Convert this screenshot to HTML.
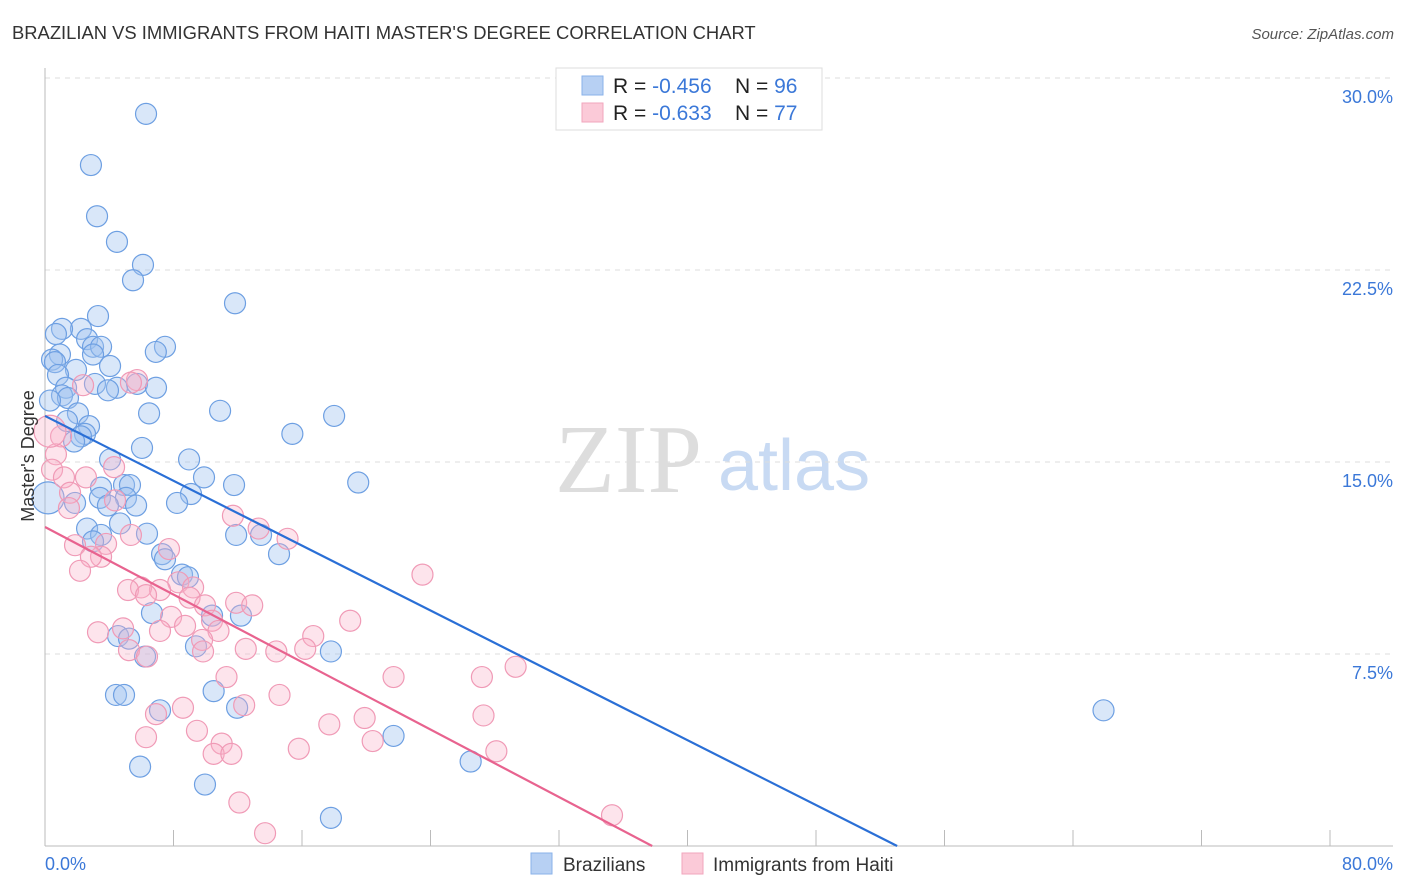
<!DOCTYPE html>
<html><head><meta charset="utf-8"><style>
body{margin:0;background:#fff;font-family:"Liberation Sans",sans-serif;}
svg{display:block}
</style></head><body>
<svg width="1406" height="892" xmlns="http://www.w3.org/2000/svg">
<text x="12" y="39" font-size="18.4" fill="#333">BRAZILIAN VS IMMIGRANTS FROM HAITI MASTER'S DEGREE CORRELATION CHART</text>
<text x="1394" y="39" font-size="15" fill="#555" text-anchor="end" font-style="italic">Source: ZipAtlas.com</text>
<g>
<text x="555" y="492" font-family="Liberation Serif,serif" font-size="98" fill="#ddd">ZIP</text>
<text x="718" y="490" font-size="72" fill="#c8daf3">atlas</text>
</g>
<g id="grid"></g>
<g id="axes"></g>
<g id="pts"></g>
<g id="lines"></g>
<text transform="translate(34,456) rotate(-90)" font-size="18" fill="#333" text-anchor="middle">Master's Degree</text>
<g>
<rect x="556" y="68" width="266" height="62" fill="#fff" stroke="#ddd"/>
<rect x="582" y="76" width="21" height="19" fill="#b7d0f3" stroke="#8ab2ea"/>
<rect x="582" y="103" width="21" height="19" fill="#fbcad8" stroke="#f2a6bd"/>
<text x="613" y="93" font-size="21" fill="#222">R = <tspan fill="#3b78d8">-0.456</tspan><tspan x="735">N = </tspan><tspan fill="#3b78d8">96</tspan></text>
<text x="613" y="120" font-size="21" fill="#222">R = <tspan fill="#3b78d8"> -0.633</tspan><tspan x="735">N = </tspan><tspan fill="#3b78d8">77</tspan></text>
</g>
<g>
<rect x="531" y="853" width="21" height="21" fill="#b7d0f3" stroke="#8ab2ea"/>
<text x="563" y="871" font-size="19" fill="#333">Brazilians</text>
<rect x="682" y="853" width="21" height="21" fill="#fbcad8" stroke="#f2a6bd"/>
<text x="713" y="871" font-size="19" fill="#333">Immigrants from Haiti</text>
</g>
</svg>
<script>
const blueX=[6.29,2.86,3.24,4.48,6.10,5.48,11.83,3.30,2.24,1.06,0.68,2.62,7.47,2.99,3.49,6.90,2.99,0.93,0.44,0.62,4.05,1.93,0.81,3.11,5.73,1.31,4.48,3.92,6.91,1.06,1.43,0.31,6.48,10.9,18.0,2.05,1.37,2.74,2.49,2.24,15.4,1.81,6.04,4.05,8.97,9.90,19.5,11.77,4.92,5.29,3.49,3.42,5.04,9.09,8.22,3.92,5.67,1.87,0.19,4.67,2.62,3.49,6.35,11.9,13.45,2.99,14.57,7.29,7.47,8.53,8.9,6.66,10.4,12.2,4.55,5.23,6.23,9.4,17.8,4.42,4.92,10.5,7.16,11.96,65.9,21.7,5.92,26.5,9.96,17.8];
const blueY=[28.6,26.6,24.6,23.6,22.7,22.1,21.2,20.7,20.2,20.2,20.0,19.8,19.5,19.5,19.5,19.3,19.2,19.2,19.0,18.9,18.75,18.6,18.4,18.05,18.05,17.9,17.9,17.8,17.9,17.6,17.5,17.4,16.9,17.0,16.8,16.9,16.6,16.4,16.1,16.0,16.1,15.8,15.55,15.1,15.1,14.4,14.2,14.1,14.1,14.1,14.0,13.6,13.6,13.75,13.4,13.3,13.3,13.4,13.6,12.6,12.4,12.15,12.2,12.15,12.15,11.9,11.4,11.4,11.2,10.6,10.5,9.1,9.0,9.0,8.2,8.1,7.4,7.8,7.6,5.9,5.9,6.05,5.3,5.4,5.3,4.3,3.1,3.3,2.4,1.1];
const pinkX=[5.73,5.35,2.37,1.0,0.68,0.44,1.18,1.56,2.55,4.30,4.36,1.49,11.7,13.3,15.1,5.35,3.80,1.87,3.49,2.86,2.18,7.72,8.3,9.22,7.16,5.98,5.17,6.29,9.0,9.96,11.9,12.9,23.5,19.0,7.85,10.4,3.30,4.86,7.16,8.72,10.8,9.78,16.7,5.23,12.5,14.4,16.2,9.84,6.35,29.3,11.3,21.7,27.2,14.6,6.91,8.59,12.4,19.9,27.3,17.7,9.46,6.29,20.4,11.0,10.5,11.6,15.8,28.1,12.1,35.3,13.7,0.31];
const pinkY=[18.2,18.1,18.0,16.0,15.3,14.7,14.4,13.8,14.4,14.8,13.5,13.2,12.9,12.4,12.0,12.15,11.8,11.75,11.3,11.3,10.75,11.6,10.3,10.1,10.0,10.1,10.0,9.8,9.7,9.4,9.5,9.4,10.6,8.8,8.95,8.8,8.35,8.5,8.4,8.6,8.4,8.05,8.2,7.65,7.7,7.6,7.7,7.6,7.4,7.0,6.6,6.6,6.6,5.9,5.15,5.4,5.5,5.0,5.1,4.75,4.5,4.25,4.1,4.0,3.6,3.6,3.8,3.7,1.7,1.2,0.5,16.2];
const blueTrend=[[0,16.8],[53.05,0]];
const pinkTrend=[[0,12.46],[37.8,0]];
const yTicks=[7.5,15,22.5,30];
const yTickLabels=["7.5%","15.0%","22.5%","30.0%"];
const xTickVals=[0,8,16,24,32,40,48,56,64,72,80];
const NS="http://www.w3.org/2000/svg";
const sx=v=>45+v*1285/80;
const sy=v=>846-v*768/30;
function mk(tag,attrs,parent){const e=document.createElementNS(NS,tag);for(const k in attrs)e.setAttribute(k,attrs[k]);parent.appendChild(e);return e;}
const grid=document.getElementById('grid'),axes=document.getElementById('axes'),pts=document.getElementById('pts'),lines=document.getElementById('lines');
yTicks.forEach((t,i)=>{
 const l=mk('line',{x1:45,x2:1393,y1:sy(t),y2:sy(t),stroke:'#ddd','stroke-dasharray':'5,5'},grid);
 
 
 const tx=mk('text',{x:1393,y:sy(t)+25,'font-size':18,fill:'#3b78d8','text-anchor':'end'},axes);
 tx.textContent=yTickLabels[i];
 
 
});
const ya=mk('line',{x1:45,x2:45,y1:68,y2:846,stroke:'#bbb'},axes);


const xa=mk('line',{x1:45,x2:1393,y1:846,y2:846,stroke:'#bbb'},axes);


xTickVals.forEach(t=>{
 const l=mk('line',{x1:sx(t),x2:sx(t),y1:830,y2:846,stroke:'#bbb'},axes);
 
 
});
const xl0=mk('text',{x:45,y:870,'font-size':18,fill:'#3b78d8'},axes);xl0.textContent='0.0%';


const xl1=mk('text',{x:1393,y:870,'font-size':18,fill:'#3b78d8','text-anchor':'end'},axes);xl1.textContent='80.0%';


function dots(X,Y,fill,stroke,name,bigIdx){X.forEach((x,i)=>{
 const c=mk('circle',{cx:sx(x),cy:sy(Y[i]),r:(i===bigIdx?16:10.5),fill:fill,stroke:stroke,'stroke-width':1.2},pts);
 
 
});}
dots(blueX,blueY,'rgba(160,194,240,0.4)','#6d9fe2','brazilian-point',58);
dots(pinkX,pinkY,'rgba(249,178,200,0.35)','#f09ab6','haiti-point',71);
const bl=mk('line',{x1:sx(blueTrend[0][0]),y1:sy(blueTrend[0][1]),x2:sx(blueTrend[1][0]),y2:sy(blueTrend[1][1]),stroke:'#2a6fd6','stroke-width':2.2},lines);


const pl=mk('line',{x1:sx(pinkTrend[0][0]),y1:sy(pinkTrend[0][1]),x2:sx(pinkTrend[1][0]),y2:sy(pinkTrend[1][1]),stroke:'#e8638f','stroke-width':2.2},lines);


</script>
</body></html>
